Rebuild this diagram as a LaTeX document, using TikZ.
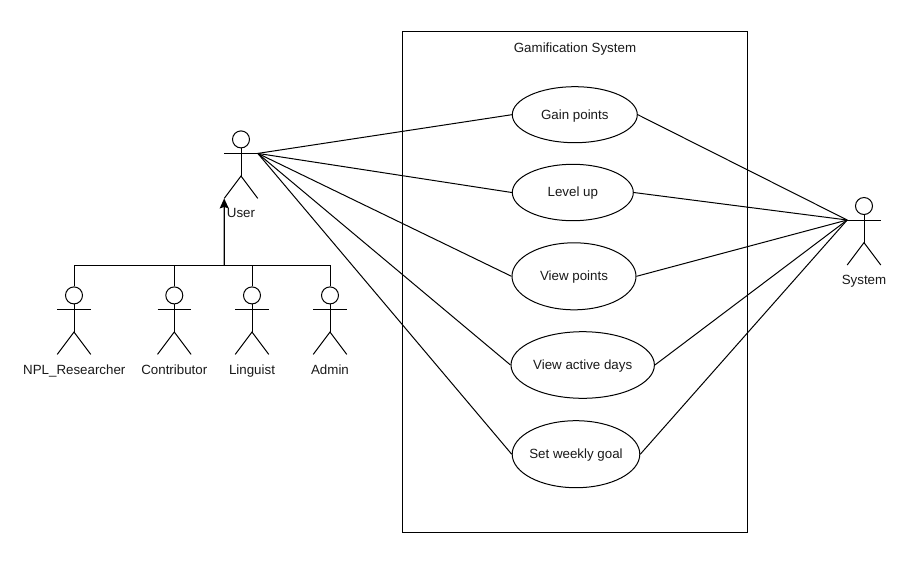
\documentclass[tikz,border=0pt]{standalone}
\usepackage{fontspec}
\setmainfont{Liberation Sans}
\usetikzlibrary{shapes.geometric,arrows.meta}
\tikzset{
  x=0.75pt,y=-0.75pt,
  every node/.style={font=\fontsize{10}{12}\selectfont,text=black!90},
  ln/.style={draw=black,line width=0.75pt},
  txt/.style={text height=7.2pt,text depth=0.6pt},
  usecase/.style n args={2}{ellipse,ln,fill=white,txt,inner ysep=0pt,inner xsep=-8pt,minimum width=#1*0.75pt,minimum height=#2*0.75pt},
  headc/.style={circle,ln,fill=white,inner sep=0pt,minimum size=17*0.75pt},
  lab/.style={txt,inner sep=0pt,anchor=center},
}
% #1 name, #2 x, #3 y of the arm line
\newcommand{\stickman}[3]{%
  \node[headc] (#1) at (#2,#3-14) {};
  \coordinate (#1-l) at (#2-16.8,#3);
  \coordinate (#1-r) at (#2+16.8,#3);
  \coordinate (#1-hip) at (#2,#3+22.6);
  \coordinate (#1-fl) at (#2-16.8,#3+45);
  \coordinate (#1-fr) at (#2+16.8,#3+45);
  \draw[ln] (#1.south) -- (#1-hip);
  \draw[ln] (#1-l) -- (#1-r);
  \draw[ln] (#1-fl) -- (#1-hip) -- (#1-fr);
}
\begin{document}
\begin{tikzpicture}
\useasboundingbox (0,0) rectangle (908,569);
\fill[white] (0,0) rectangle (908,569);
\node[ln,rectangle,inner sep=0pt,minimum width=344.6*0.75pt,minimum height=501*0.75pt] (sys) at (574.8,281.5) {};
\node[lab] (title) at (575,48) {Gamification System};

\node[usecase={125}{56}] (gain) at (574.8,114.7) {Gain points};
\node[usecase={121}{56.4}] (level) at (572.8,192.5) {Level up};
\node[usecase={124}{67}] (view) at (574,276.3) {View points};
\node[usecase={143.4}{66.6}] (active) at (582.7,365) {View active days};
\node[usecase={127.6}{67}] (goal) at (576,454.2) {Set weekly goal};

\stickman{user}{241}{153.4}
\stickman{system}{864}{220}
\stickman{npl}{74}{309.4}
\stickman{contrib}{174.3}{309.4}
\stickman{ling}{252}{309.4}
\stickman{admin}{330}{309.4}

\node[lab] (userl) at (241,213.4) {User};
\node[lab] (systeml) at (864,279.9) {System};
\node[lab] (npll) at (74.3,370) {NPL\_Researcher};
\node[lab] (contribl) at (174.3,370) {Contributor};
\node[lab] (lingl) at (252,370) {Linguist};
\node[lab] (adminl) at (330,370) {Admin};

\foreach \u in {gain,level,view,active,goal}{
  \draw[ln] (user-r) -- (\u.west);
  \draw[ln] (system-l) -- (\u.east);
}

\coordinate (bus) at (224.3,265);
\draw[ln] (npl.north) |- (bus);
\draw[ln] (contrib.north) |- (bus);
\draw[ln] (ling.north) |- (bus);
\draw[ln] (admin.north) |- (bus);
\draw[ln,line width=1pt,-{Stealth[length=10*0.75pt,width=9*0.75pt,inset=1.5*0.75pt]}] (bus) -- (user-fl);
\end{tikzpicture}
\end{document}
